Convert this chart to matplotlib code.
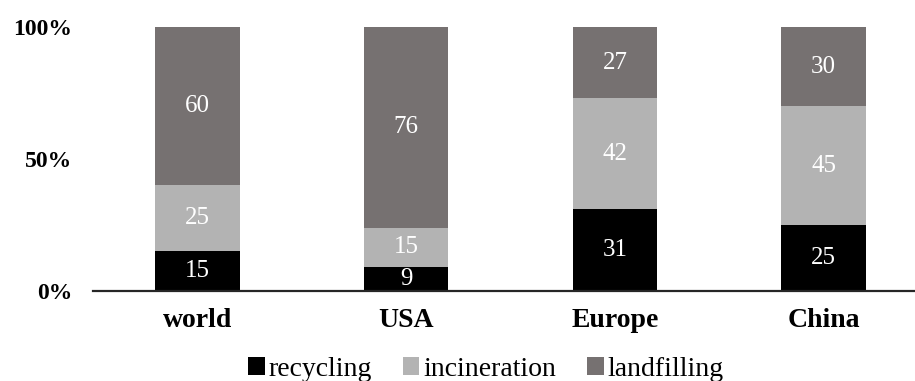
import matplotlib.pyplot as plt
import numpy as np

plt.rcParams['font.family'] = ['Liberation Serif', 'DejaVu Serif']

regions = ['world', 'USA', 'Europe', 'China']
recycling = [15, 9, 31, 25]
incineration = [25, 15, 42, 45]
landfilling = [60, 76, 27, 30]

series = [('recycling', recycling, '#000000'),
          ('incineration', incineration, '#b3b3b3'),
          ('landfilling', landfilling, '#767171')]

fig = plt.figure(figsize=(9.15, 3.81), dpi=100)
ax = fig.add_axes([93/915, 90/381, 835/915, 264/381])

x = np.arange(len(regions))
bottom = np.zeros(len(regions))
for name, vals, col in series:
    vals = np.array(vals, dtype=float)
    ax.bar(x, vals, width=0.405, bottom=bottom, color=col, label=name)
    for xi, b, v in zip(x, bottom, vals):
        ax.text(xi, b + v / 2, str(int(v)), ha='center', va='center',
                color='white', fontsize=18)
    bottom += vals

ax.set_xlim(-0.5, 3.5)
ax.set_ylim(0, 100)
ax.set_yticks([0, 50, 100])
ax.set_yticklabels(['0%', '50%', '100%'], fontsize=17, fontweight='bold')
ax.set_xticks(x)
ax.set_xticklabels(regions, fontsize=20, fontweight='bold')
ax.tick_params(axis='y', length=0, pad=15)
ax.tick_params(axis='x', length=0, pad=12)

for s in ['top', 'right', 'left']:
    ax.spines[s].set_visible(False)
ax.spines['bottom'].set_linewidth(1.6)
ax.spines['bottom'].set_color('#262626')

fig.legend(loc='center', bbox_to_anchor=(486/915, 1 - 369/381), ncol=3,
           frameon=False, fontsize=20, handlelength=0.6, handleheight=0.6,
           handletextpad=0.15, columnspacing=1.1)

fig.savefig('out.png', dpi=100)
